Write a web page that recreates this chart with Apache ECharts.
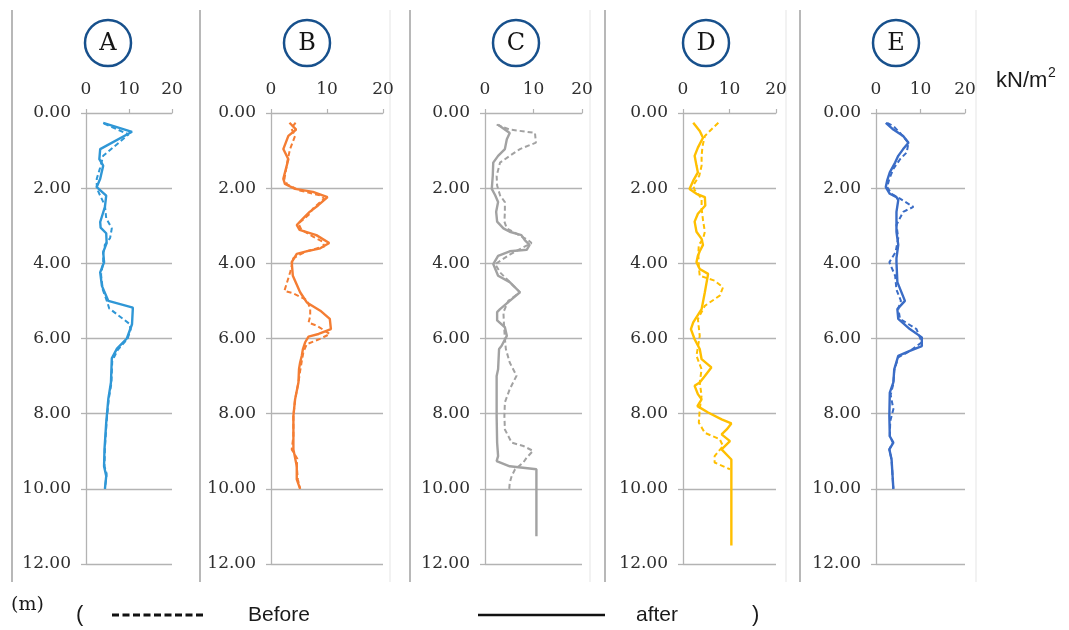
<!DOCTYPE html>
<html>
<head>
<meta charset="utf-8">
<script src="https://cdn.jsdelivr.net/npm/echarts@6/dist/echarts.min.js"></script>
<style>
  html, body { margin: 0; padding: 0; background: #ffffff; }
  #chart { width: 1069px; height: 630px; }
</style>
</head>
<body>
<div id="chart"></div>
<script>
// Pressure profiles (kN/m2) against depth (m) for five boreholes, before and after.
// Each point is [pressure, depth].
const panelNames = ['A', 'B', 'C', 'D', 'E'];
const pressureTicks = [0, 10, 20];
const depthTicks = [0, 2, 4, 6, 8, 10, 12];

const aBefore = [[4.2,0.28],[9.9,0.57],[4.0,1.14],[3.3,1.45],[2.5,1.75],[2.5,2.0],[3.3,2.2],[4.4,2.46],[4.7,2.8],[6.0,3.07],[5.6,3.33],[4.4,3.5],[4.0,3.75],[4.0,3.97],[3.5,4.3],[3.9,4.7],[5.0,5.05],[5.4,5.2],[10.0,5.6],[10.4,5.75],[9.7,6.0],[7.4,6.3],[6.1,6.6],[5.9,7.2],[5.3,7.6],[4.8,8.2],[4.4,8.9],[4.3,9.4],[4.8,9.6],[4.4,10.0]];
const aAfter = [[4.0,0.26],[10.7,0.5],[3.3,0.96],[3.1,1.23],[4.0,1.4],[3.3,1.75],[2.5,1.97],[4.7,2.2],[4.4,2.5],[3.3,2.9],[3.4,3.05],[4.7,3.2],[4.8,3.46],[4.0,3.7],[4.2,3.97],[3.3,4.24],[3.7,4.6],[5.2,5.0],[10.9,5.18],[10.7,5.62],[9.5,6.0],[7.2,6.27],[6.0,6.53],[5.8,7.17],[5.2,7.6],[4.7,8.24],[4.3,8.95],[4.2,9.4],[4.7,9.66],[4.4,10.0]];

const bBefore = [[4.4,0.26],[3.6,0.4],[4.3,0.61],[3.4,0.96],[3.0,1.23],[2.7,1.49],[2.4,1.75],[2.9,1.9],[5.1,2.06],[8.7,2.19],[9.5,2.28],[7.5,2.54],[6.8,2.7],[4.9,2.94],[5.4,3.1],[7.5,3.29],[9.2,3.42],[9.5,3.55],[6.3,3.68],[4.0,3.86],[3.5,4.2],[2.4,4.73],[4.0,4.8],[6.4,4.98],[7.0,5.2],[7.0,5.4],[6.7,5.58],[8.2,5.66],[10.5,5.88],[8.9,6.0],[6.4,6.15],[5.8,6.35],[5.5,6.6],[5.2,6.87],[4.9,7.17],[4.3,7.62],[4.0,8.06],[4.0,8.6],[3.7,8.95],[4.7,9.2],[4.6,9.4],[4.8,9.75],[5.2,10.0]];
const bAfter = [[3.3,0.26],[4.5,0.44],[3.1,0.61],[2.2,0.96],[3.1,1.23],[2.5,1.58],[2.2,1.75],[2.5,1.89],[4.3,2.02],[7.5,2.1],[10.1,2.24],[8.4,2.46],[6.9,2.63],[5.7,2.81],[4.6,2.98],[5.1,3.11],[8.1,3.25],[10.4,3.46],[8.8,3.6],[6.3,3.68],[4.6,3.75],[3.7,3.97],[3.9,4.33],[5.2,4.77],[6.4,5.04],[8.8,5.26],[10.5,5.48],[10.7,5.75],[8.5,5.88],[6.7,5.95],[6.1,6.1],[5.7,6.28],[5.5,6.46],[5.2,6.64],[5.0,6.82],[4.9,7.17],[4.3,7.62],[4.0,8.06],[4.0,8.6],[4.0,8.95],[4.6,9.4],[4.6,9.75],[5.2,10.0]];

const cBefore = [[2.4,0.31],[5.1,0.44],[10.3,0.53],[10.5,0.79],[7.2,0.96],[5.1,1.14],[3.1,1.32],[2.4,1.67],[2.5,1.93],[3.1,2.19],[4.1,2.37],[4.1,2.63],[4.0,2.89],[4.5,3.07],[7.0,3.25],[8.9,3.38],[9.6,3.46],[7.5,3.6],[5.1,3.77],[2.1,4.02],[3.1,4.24],[5.1,4.5],[7.2,4.77],[4.8,5.0],[3.8,5.3],[3.9,5.6],[4.1,6.0],[4.3,6.28],[5.1,6.64],[6.5,6.99],[5.1,7.35],[4.1,7.7],[4.0,8.06],[4.1,8.42],[5.5,8.77],[7.9,8.86],[9.9,8.99],[8.6,9.17],[7.9,9.3],[6.2,9.48],[5.5,9.66],[5.1,9.84],[5.0,10.0]];
const cAfter = [[2.7,0.31],[5.1,0.53],[4.5,0.7],[4.1,0.96],[2.7,1.14],[1.7,1.32],[1.6,1.67],[1.4,2.02],[2.1,2.19],[2.7,2.37],[2.3,2.63],[2.5,2.89],[3.8,3.07],[5.1,3.16],[7.5,3.25],[8.2,3.38],[9.2,3.51],[8.6,3.64],[5.1,3.68],[2.7,3.8],[1.7,4.02],[2.7,4.33],[5.1,4.5],[7.2,4.77],[5.1,5.0],[3.1,5.22],[2.5,5.3],[2.5,5.52],[4.1,5.7],[4.5,5.93],[3.4,6.2],[2.9,6.28],[2.7,6.82],[2.4,7.0],[2.4,8.06],[2.5,8.77],[2.7,9.13],[2.4,9.26],[5.1,9.4],[10.6,9.48],[10.6,9.84],[10.6,11.26]];

const dBefore = [[7.6,0.26],[6.1,0.44],[4.7,0.61],[4.2,0.88],[4.0,1.14],[4.0,1.4],[3.5,1.67],[2.2,1.93],[2.5,2.05],[4.0,2.28],[4.0,2.54],[4.3,2.85],[4.7,3.16],[4.3,3.35],[3.4,3.51],[3.3,3.75],[3.4,4.1],[3.6,4.33],[6.8,4.46],[8.6,4.64],[7.9,4.86],[4.7,5.13],[3.2,5.48],[3.6,5.93],[2.9,6.46],[4.0,6.82],[3.6,7.17],[4.0,7.52],[3.6,7.88],[3.4,8.24],[4.7,8.51],[7.9,8.68],[8.6,8.86],[6.8,9.13],[6.8,9.3],[10.1,9.48]];
const dAfter = [[2.2,0.26],[3.6,0.48],[4.3,0.66],[3.2,0.92],[2.5,1.14],[2.9,1.4],[3.2,1.58],[2.2,1.8],[1.4,2.02],[2.9,2.15],[4.7,2.24],[4.8,2.46],[3.2,2.68],[2.5,2.89],[2.9,3.16],[4.0,3.35],[4.3,3.51],[3.6,3.68],[3.2,3.8],[2.9,3.97],[3.6,4.15],[5.4,4.28],[4.7,4.77],[4.0,5.22],[2.2,5.57],[1.7,5.75],[2.5,6.02],[3.6,6.28],[4.0,6.55],[6.1,6.77],[4.7,7.0],[3.6,7.17],[2.5,7.26],[3.2,7.48],[4.0,7.62],[3.1,7.8],[5.4,7.97],[8.3,8.15],[10.4,8.26],[9.4,8.42],[8.3,8.55],[10.1,8.73],[8.3,8.95],[10.4,9.22],[10.4,11.51]];

const eBefore = [[2.5,0.26],[4.0,0.36],[5.4,0.53],[7.3,0.79],[6.9,1.05],[5.4,1.23],[3.9,1.49],[3.0,1.75],[2.5,1.97],[3.5,2.15],[5.4,2.28],[8.4,2.5],[6.1,2.63],[4.6,2.98],[5.0,3.33],[4.4,3.7],[3.0,3.97],[4.3,4.33],[4.6,4.7],[5.6,5.0],[5.0,5.2],[5.4,5.48],[9.1,5.75],[10.3,6.1],[7.4,6.35],[5.0,6.5],[4.1,6.85],[3.9,7.2],[3.3,7.5],[3.9,7.88],[3.2,8.2],[3.1,8.6],[3.8,8.77],[3.0,8.95],[3.5,9.22],[3.9,10.0]];
const eAfter = [[2.2,0.26],[3.9,0.44],[6.1,0.61],[7.3,0.79],[6.1,0.96],[5.0,1.14],[4.3,1.32],[3.1,1.58],[2.5,1.8],[2.2,1.97],[3.1,2.15],[4.6,2.24],[5.0,2.32],[4.6,2.63],[4.6,3.16],[5.0,3.51],[4.6,3.86],[4.6,3.97],[4.8,4.5],[6.5,5.0],[4.8,5.22],[5.0,5.48],[7.6,5.75],[10.3,5.97],[10.3,6.2],[7.6,6.33],[5.0,6.46],[4.1,6.82],[3.9,7.17],[3.1,7.44],[3.0,8.06],[3.1,8.6],[3.9,8.77],[3.0,8.95],[3.5,9.22],[3.9,10.0]];

const beforeSets = [aBefore, bBefore, cBefore, dBefore, eBefore];
const afterSets = [aAfter, bAfter, cAfter, dAfter, eAfter];
const lineColors = ['#2f97d6', '#f47d33', '#a2a2a2', '#ffbf00', '#3a6cc6'];

// Layout of the five plot areas and their header badges
const plotBoxes = [
  { left: 86, width: 86, badgeX: 108 },
  { left: 271, width: 112, badgeX: 307 },
  { left: 485, width: 97, badgeX: 516 },
  { left: 683, width: 93, badgeX: 706 },
  { left: 876, width: 89, badgeX: 896 }
];
const plotTop = 113;
const plotHeight = 451;
const gridGray = '#b3b3b3';
const labelColor = '#2e2e2e';
const serif = '"DejaVu Serif", "Liberation Serif", serif';
const sans = '"Liberation Sans", Arial, sans-serif';

const grids = [], xAxes = [], yAxes = [], series = [], graphics = [];

plotBoxes.forEach((box, i) => {
  grids.push({ left: box.left, top: plotTop, width: box.width, height: plotHeight, containLabel: false });
  xAxes.push({
    type: 'value', gridIndex: i, position: 'top',
    min: pressureTicks[0], max: pressureTicks[pressureTicks.length - 1],
    interval: pressureTicks[1] - pressureTicks[0],
    axisLine: { show: true, onZero: false, lineStyle: { color: gridGray, width: 1.2 } },
    axisTick: { show: true, length: 4, lineStyle: { color: gridGray, width: 1.2 } },
    splitLine: { show: false },
    axisLabel: { fontFamily: serif, fontSize: 17, color: labelColor, margin: 15 }
  });
  yAxes.push({
    type: 'value', gridIndex: i, inverse: true,
    min: depthTicks[0], max: depthTicks[depthTicks.length - 1],
    interval: depthTicks[1] - depthTicks[0],
    axisLine: { show: true, onZero: false, lineStyle: { color: gridGray, width: 1.3 } },
    axisTick: { show: true, length: 5, lineStyle: { color: gridGray, width: 1.3 } },
    splitLine: { show: true, lineStyle: { color: gridGray, width: 1.3 } },
    axisLabel: { fontFamily: serif, fontSize: 17, color: labelColor, margin: 15,
                 formatter: v => v.toFixed(2) }
  });
  series.push({
    name: 'Before', type: 'line', xAxisIndex: i, yAxisIndex: i,
    data: beforeSets[i], showSymbol: false, silent: true, z: 2,
    lineStyle: { color: lineColors[i], width: 2, type: [5, 3] }
  });
  series.push({
    name: 'after', type: 'line', xAxisIndex: i, yAxisIndex: i,
    data: afterSets[i], showSymbol: false, silent: true, z: 3,
    lineStyle: { color: lineColors[i], width: 2.4 }
  });
  // circled panel letter
  graphics.push({
    type: 'circle', shape: { cx: box.badgeX, cy: 43, r: 23 },
    style: { fill: '#ffffff', stroke: '#17508c', lineWidth: 2.5 }
  });
  graphics.push({
    type: 'text', x: box.badgeX, y: 44,
    style: { text: panelNames[i], font: '24px ' + serif, fill: '#151515',
             align: 'center', verticalAlign: 'middle' }
  });
});

// panel frames
[12, 200, 410, 605, 800].forEach(x => {
  graphics.push({ type: 'line', shape: { x1: x, y1: 10, x2: x, y2: 582 },
                  style: { stroke: '#b8b8b8', lineWidth: 2 } });
});
[390, 590, 786, 976].forEach(x => {
  graphics.push({ type: 'line', shape: { x1: x, y1: 10, x2: x, y2: 582 },
                  style: { stroke: '#eeeeee', lineWidth: 1.5 } });
});

// unit labels
graphics.push({ type: 'text', x: 996, y: 81,
  style: { text: 'kN/m', font: '22px ' + sans, fill: '#1a1a1a', verticalAlign: 'middle' } });
graphics.push({ type: 'text', x: 1048, y: 73,
  style: { text: '2', font: '14px ' + sans, fill: '#1a1a1a', verticalAlign: 'middle' } });
graphics.push({ type: 'text', x: 11, y: 605,
  style: { text: '(m)', font: '19px ' + serif, fill: '#1a1a1a', verticalAlign: 'middle' } });

// key for the two line styles
graphics.push({ type: 'text', x: 76, y: 615,
  style: { text: '(', font: '22px ' + sans, fill: '#1a1a1a', verticalAlign: 'middle' } });
graphics.push({ type: 'line', shape: { x1: 112, y1: 615, x2: 206, y2: 615 },
  style: { stroke: '#111111', lineWidth: 3, lineDash: [7, 3.5] } });
graphics.push({ type: 'text', x: 248, y: 615,
  style: { text: 'Before', font: '21px ' + sans, fill: '#1a1a1a', verticalAlign: 'middle' } });
graphics.push({ type: 'line', shape: { x1: 478, y1: 615, x2: 605, y2: 615 },
  style: { stroke: '#111111', lineWidth: 2.5 } });
graphics.push({ type: 'text', x: 636, y: 615,
  style: { text: 'after', font: '21px ' + sans, fill: '#1a1a1a', verticalAlign: 'middle' } });
graphics.push({ type: 'text', x: 752, y: 615,
  style: { text: ')', font: '22px ' + sans, fill: '#1a1a1a', verticalAlign: 'middle' } });

const chart = echarts.init(document.getElementById('chart'), null, { renderer: 'canvas' });
chart.setOption({
  backgroundColor: '#ffffff',
  animation: false,
  grid: grids,
  xAxis: xAxes,
  yAxis: yAxes,
  series: series,
  graphic: graphics
});
</script>
</body>
</html>
